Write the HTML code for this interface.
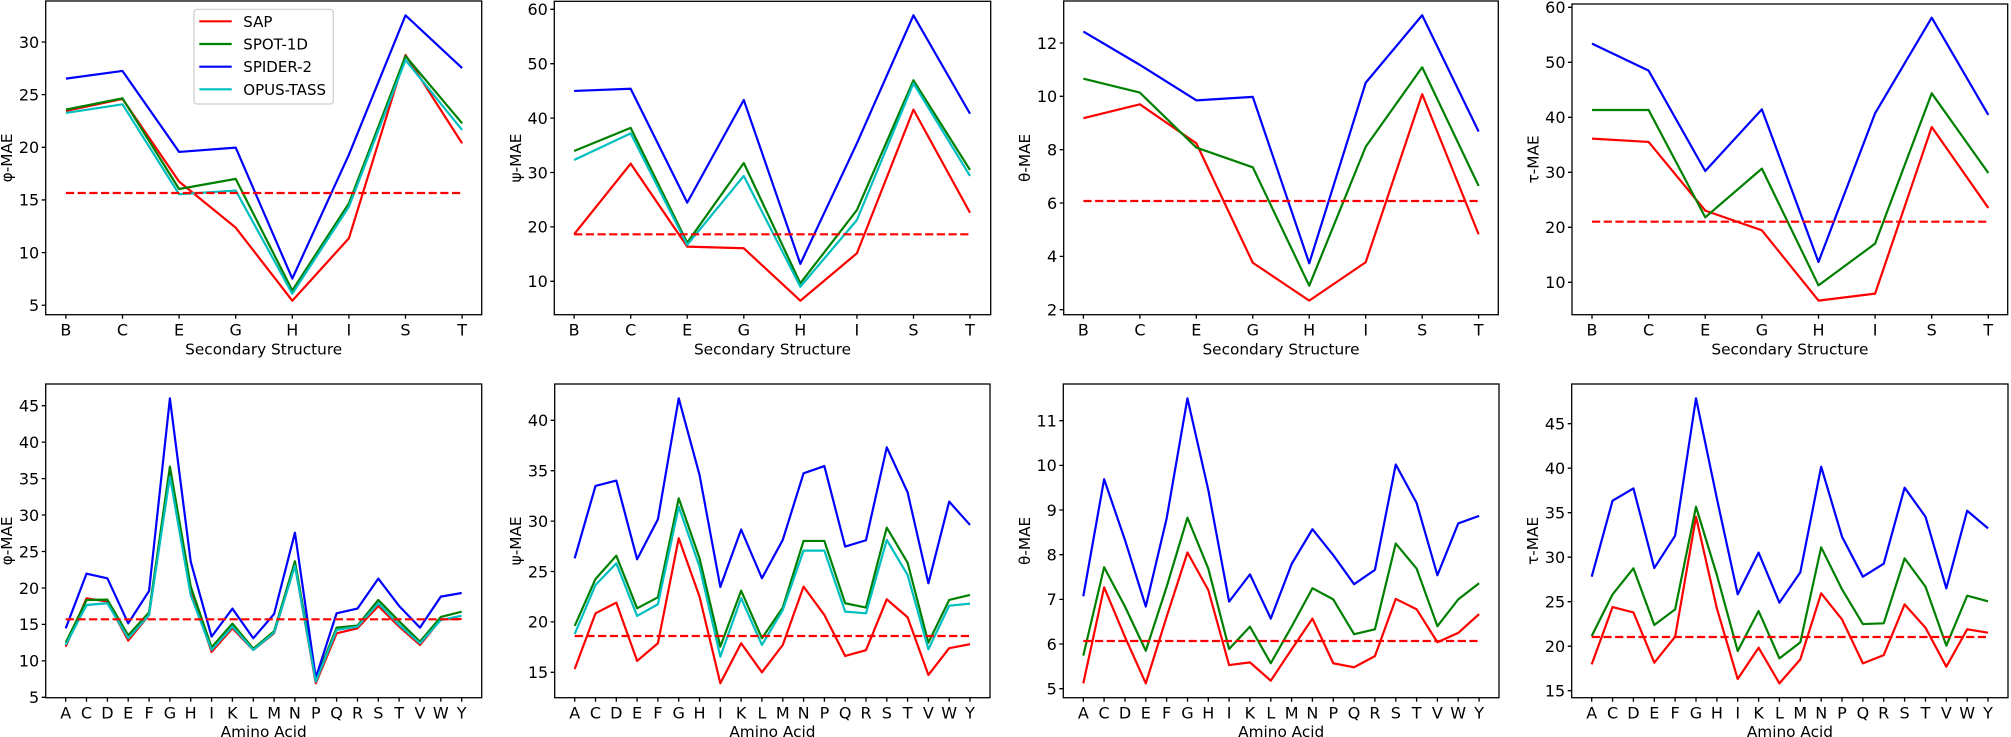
<!DOCTYPE html>
<html><head><meta charset="utf-8"><style>
html,body{margin:0;padding:0;background:#fff;}
svg{display:block;}
text{font-family:"DejaVu Sans","Liberation Sans",sans-serif;fill:#000;}
.tk{font-size:16px;}
.lb{font-size:15.3px;}
.lg{font-size:15px;}
.ln{fill:none;stroke-width:2.2;stroke-linejoin:round;}
.r{stroke:#ff0000;}.g{stroke:#008000;}.b{stroke:#0000ff;}.c{stroke:#00bfbf;}
.ds{stroke:#ff0000;stroke-width:2.2;stroke-dasharray:8.2 3.5;fill:none;}
.sp{fill:none;stroke:#000;stroke-width:1.3;}
.tm{fill:none;stroke:#000;stroke-width:1.3;}
</style></head><body>
<svg width="2011" height="737" viewBox="0 0 2011 737" xmlns="http://www.w3.org/2000/svg">
<rect width="2011" height="737" fill="#fff"/>

<!-- ================= P1 phi SS ================= -->
<g transform="translate(65.9,357.9) scale(56.6,-10.53)">
<polyline class="ln r" vector-effect="non-scaling-stroke" points="0,23.45 1,24.6 2,16.74 3,12.37 4,5.43 5,11.36 6,28.77 7,20.38"/>
<polyline class="ln g" vector-effect="non-scaling-stroke" points="0,23.58 1,24.65 2,16.04 3,17.0 4,6.4 5,14.68 6,28.67 7,22.28"/>
<polyline class="ln b" vector-effect="non-scaling-stroke" points="0,26.52 1,27.25 2,19.56 3,19.97 4,7.53 5,19.3 6,32.53 7,27.53"/>
<polyline class="ln c" vector-effect="non-scaling-stroke" points="0,23.26 1,24.08 2,15.54 3,15.89 4,6.1 5,14.36 6,28.29 7,21.65"/>
</g>
<line class="ds" x1="65.9" y1="193" x2="462.1" y2="193"/>
<rect class="sp" x="45.7" y="1" width="436" height="313.7"/>
<path class="tm" d="M41.7,305.25h4M41.7,252.6h4M41.7,199.95h4M41.7,147.3h4M41.7,94.65h4M41.7,42h4M65.9,314.7v4M122.5,314.7v4M179.1,314.7v4M235.7,314.7v4M292.3,314.7v4M348.9,314.7v4M405.5,314.7v4M462.1,314.7v4"/>
<g class="tk" text-anchor="end">
<text x="39.2" y="311">5</text><text x="39.2" y="258.4">10</text><text x="39.2" y="205.7">15</text><text x="39.2" y="153.1">20</text><text x="39.2" y="100.4">25</text><text x="39.2" y="47.8">30</text>
</g>
<g class="tk" text-anchor="middle">
<text x="65.9" y="335.3">B</text><text x="122.5" y="335.3">C</text><text x="179.1" y="335.3">E</text><text x="235.7" y="335.3">G</text><text x="292.3" y="335.3">H</text><text x="348.9" y="335.3">I</text><text x="405.5" y="335.3">S</text><text x="462.1" y="335.3">T</text>
</g>
<text class="lb" x="263.7" y="354.3" text-anchor="middle">Secondary Structure</text>
<text class="lb" text-anchor="middle" transform="translate(12.2,157.9) rotate(-90)">φ-MAE</text>

<!-- legend -->
<rect x="194" y="9.3" width="139.3" height="94.7" rx="3" fill="#fff" fill-opacity="0.8" stroke="#cccccc" stroke-width="1.2"/>
<line class="ln r" x1="199.3" y1="21.3" x2="231.7" y2="21.3"/>
<line class="ln g" x1="199.3" y1="44" x2="231.7" y2="44"/>
<line class="ln b" x1="199.3" y1="66.7" x2="231.7" y2="66.7"/>
<line class="ln c" x1="199.3" y1="89.3" x2="231.7" y2="89.3"/>
<g class="lg">
<text x="243.3" y="26.8">SAP</text>
<text x="243.3" y="49.5">SPOT-1D</text>
<text x="243.3" y="72.2">SPIDER-2</text>
<text x="243.3" y="94.8">OPUS-TASS</text>
</g>

<!-- ================= P2 psi SS ================= -->
<g transform="translate(574.1,335.7) scale(56.56,-5.44)">
<polyline class="ln r" vector-effect="non-scaling-stroke" points="0,18.64 1,31.63 2,16.37 3,16.07 4,6.43 5,15.15 6,41.56 7,22.6"/>
<polyline class="ln g" vector-effect="non-scaling-stroke" points="0,33.96 1,38.2 2,17.1 3,31.75 4,9.63 5,23.1 6,46.95 7,30.47"/>
<polyline class="ln b" vector-effect="non-scaling-stroke" points="0,44.99 1,45.4 2,24.46 3,43.33 4,13.2 5,35.37 6,58.9 7,40.8"/>
<polyline class="ln c" vector-effect="non-scaling-stroke" points="0,32.3 1,37.2 2,16.7 3,29.36 4,9.0 5,21.27 6,46.4 7,29.36"/>
</g>
<line class="ds" x1="574.1" y1="234.3" x2="970" y2="234.3"/>
<rect class="sp" x="554.3" y="1.3" width="436.4" height="313.4"/>
<path class="tm" d="M550.3,281.3h4M550.3,226.9h4M550.3,172.5h4M550.3,118.1h4M550.3,63.7h4M550.3,9.3h4M574.1,314.7v4M630.7,314.7v4M687.2,314.7v4M743.8,314.7v4M800.3,314.7v4M856.9,314.7v4M913.5,314.7v4M970,314.7v4"/>
<g class="tk" text-anchor="end">
<text x="547.8" y="287.1">10</text><text x="547.8" y="232.7">20</text><text x="547.8" y="178.3">30</text><text x="547.8" y="123.9">40</text><text x="547.8" y="69.5">50</text><text x="547.8" y="15.1">60</text>
</g>
<g class="tk" text-anchor="middle">
<text x="574.1" y="335.3">B</text><text x="630.7" y="335.3">C</text><text x="687.2" y="335.3">E</text><text x="743.8" y="335.3">G</text><text x="800.3" y="335.3">H</text><text x="856.9" y="335.3">I</text><text x="913.5" y="335.3">S</text><text x="970" y="335.3">T</text>
</g>
<text class="lb" x="772.5" y="354.3" text-anchor="middle">Secondary Structure</text>
<text class="lb" text-anchor="middle" transform="translate(520.8,158) rotate(-90)">ψ-MAE</text>

<!-- ================= P3 theta SS ================= -->
<g transform="translate(1083.4,363.04) scale(56.46,-26.67)">
<polyline class="ln r" vector-effect="non-scaling-stroke" points="0,9.18 1,9.7 2,8.24 3,3.76 4,2.34 5,3.78 6,10.08 7,4.83"/>
<polyline class="ln g" vector-effect="non-scaling-stroke" points="0,10.66 1,10.14 2,8.08 3,7.34 4,2.9 5,8.11 6,11.09 7,6.64"/>
<polyline class="ln b" vector-effect="non-scaling-stroke" points="0,12.43 1,11.18 2,9.85 3,9.98 4,3.74 5,10.51 6,13.04 7,8.68"/>
</g>
<line class="ds" x1="1083.4" y1="201" x2="1478.6" y2="201"/>
<rect class="sp" x="1063.7" y="1" width="434.6" height="313.7"/>
<path class="tm" d="M1059.7,309.7h4M1059.7,256.4h4M1059.7,203h4M1059.7,149.7h4M1059.7,96.3h4M1059.7,43h4M1083.4,314.7v4M1139.9,314.7v4M1196.3,314.7v4M1252.8,314.7v4M1309.2,314.7v4M1365.7,314.7v4M1422.2,314.7v4M1478.6,314.7v4"/>
<g class="tk" text-anchor="end">
<text x="1057.2" y="315.5">2</text><text x="1057.2" y="262.2">4</text><text x="1057.2" y="208.8">6</text><text x="1057.2" y="155.5">8</text><text x="1057.2" y="102.1">10</text><text x="1057.2" y="48.8">12</text>
</g>
<g class="tk" text-anchor="middle">
<text x="1083.4" y="335.3">B</text><text x="1139.9" y="335.3">C</text><text x="1196.3" y="335.3">E</text><text x="1252.8" y="335.3">G</text><text x="1309.2" y="335.3">H</text><text x="1365.7" y="335.3">I</text><text x="1422.2" y="335.3">S</text><text x="1478.6" y="335.3">T</text>
</g>
<text class="lb" x="1281" y="354.3" text-anchor="middle">Secondary Structure</text>
<text class="lb" text-anchor="middle" transform="translate(1030.2,157.9) rotate(-90)">θ-MAE</text>

<!-- ================= P4 tau SS ================= -->
<g transform="translate(1592,337.3) scale(56.62,-5.5)">
<polyline class="ln r" vector-effect="non-scaling-stroke" points="0,36.12 1,35.52 2,23.03 3,19.45 4,6.67 5,7.94 6,38.24 7,23.52"/>
<polyline class="ln g" vector-effect="non-scaling-stroke" points="0,41.33 1,41.33 2,21.82 3,30.67 4,9.45 5,17.03 6,44.36 7,29.88"/>
<polyline class="ln b" vector-effect="non-scaling-stroke" points="0,53.39 1,48.48 2,30.24 3,41.45 4,13.7 5,40.73 6,58.12 7,40.42"/>
</g>
<line class="ds" x1="1592" y1="221.7" x2="1988.3" y2="221.7"/>
<rect class="sp" x="1572" y="4" width="435.7" height="310.7"/>
<path class="tm" d="M1568,282.3h4M1568,227.3h4M1568,172.3h4M1568,117.3h4M1568,62.3h4M1568,7.3h4M1592,314.7v4M1648.6,314.7v4M1705.2,314.7v4M1761.9,314.7v4M1818.5,314.7v4M1875.1,314.7v4M1931.7,314.7v4M1988.3,314.7v4"/>
<g class="tk" text-anchor="end">
<text x="1565.5" y="288.1">10</text><text x="1565.5" y="233.1">20</text><text x="1565.5" y="178.1">30</text><text x="1565.5" y="123.1">40</text><text x="1565.5" y="68.1">50</text><text x="1565.5" y="13.1">60</text>
</g>
<g class="tk" text-anchor="middle">
<text x="1592" y="335.3">B</text><text x="1648.6" y="335.3">C</text><text x="1705.2" y="335.3">E</text><text x="1761.9" y="335.3">G</text><text x="1818.5" y="335.3">H</text><text x="1875.1" y="335.3">I</text><text x="1931.7" y="335.3">S</text><text x="1988.3" y="335.3">T</text>
</g>
<text class="lb" x="1789.9" y="354.3" text-anchor="middle">Secondary Structure</text>
<text class="lb" text-anchor="middle" transform="translate(1538.5,159.4) rotate(-90)">τ-MAE</text>

<!-- ================= P5 phi AA ================= -->
<g transform="translate(65.7,733.8) scale(20.84,-7.292)">
<polyline class="ln r" vector-effect="non-scaling-stroke" points="0,11.95 1,18.58 2,18.13 3,12.78 4,16.3 5,36.2 6,19.73 7,11.23 8,14.47 9,11.5 10,13.78 11,23.15 12,6.93 13,13.78 14,14.47 15,17.53 16,14.7 17,12.18 18,15.7 19,15.75"/>
<polyline class="ln g" vector-effect="non-scaling-stroke" points="0,12.5 1,18.35 2,18.4 3,13.5 4,16.66 5,36.64 6,20.18 7,11.86 8,15.11 9,11.68 10,14.06 11,23.66 12,7.4 13,14.56 14,14.84 15,18.35 16,15.43 17,12.64 18,16.02 19,16.75"/>
<polyline class="ln b" vector-effect="non-scaling-stroke" points="0,14.46 1,21.96 2,21.32 3,15.15 4,19.58 5,46.0 6,23.6 7,13.33 8,17.17 9,13.1 10,16.43 11,27.58 12,7.7 13,16.53 14,17.17 15,21.28 16,17.53 17,14.56 18,18.81 19,19.31"/>
<polyline class="ln c" vector-effect="non-scaling-stroke" points="0,12.18 1,17.66 2,17.9 3,13.1 4,16.3 5,35.27 6,19.0 7,11.5 8,14.7 9,11.5 10,13.87 11,23.06 12,7.15 13,14.24 14,14.7 15,17.9 16,14.93 17,12.41 18,15.6 19,16.2"/>
</g>
<line class="ds" x1="65.7" y1="619.3" x2="461.7" y2="619.3"/>
<rect class="sp" x="45.7" y="384" width="436" height="313.7"/>
<path class="tm" d="M41.7,697.3h4M41.7,660.9h4M41.7,624.4h4M41.7,588h4M41.7,551.5h4M41.7,515h4M41.7,478.6h4M41.7,442.1h4M41.7,405.7h4M65.7,697.7v4M86.5,697.7v4M107.4,697.7v4M128.2,697.7v4M149.1,697.7v4M169.9,697.7v4M190.7,697.7v4M211.6,697.7v4M232.4,697.7v4M253.3,697.7v4M274.1,697.7v4M294.9,697.7v4M315.8,697.7v4M336.6,697.7v4M357.5,697.7v4M378.3,697.7v4M399.1,697.7v4M420,697.7v4M440.8,697.7v4M461.7,697.7v4"/>
<g class="tk" text-anchor="end">
<text x="39.2" y="703.1">5</text><text x="39.2" y="666.7">10</text><text x="39.2" y="630.2">15</text><text x="39.2" y="593.8">20</text><text x="39.2" y="557.3">25</text><text x="39.2" y="520.8">30</text><text x="39.2" y="484.4">35</text><text x="39.2" y="447.9">40</text><text x="39.2" y="411.5">45</text>
</g>
<g class="tk" text-anchor="middle">
<text x="65.7" y="718.3">A</text><text x="86.5" y="718.3">C</text><text x="107.4" y="718.3">D</text><text x="128.2" y="718.3">E</text><text x="149.1" y="718.3">F</text><text x="169.9" y="718.3">G</text><text x="190.7" y="718.3">H</text><text x="211.6" y="718.3">I</text><text x="232.4" y="718.3">K</text><text x="253.3" y="718.3">L</text><text x="274.1" y="718.3">M</text><text x="294.9" y="718.3">N</text><text x="315.8" y="718.3">P</text><text x="336.6" y="718.3">Q</text><text x="357.5" y="718.3">R</text><text x="378.3" y="718.3">S</text><text x="399.1" y="718.3">T</text><text x="420" y="718.3">V</text><text x="440.8" y="718.3">W</text><text x="461.7" y="718.3">Y</text>
</g>
<text class="lb" x="263.7" y="737" text-anchor="middle">Amino Acid</text>
<text class="lb" text-anchor="middle" transform="translate(12.2,540.9) rotate(-90)">φ-MAE</text>

<!-- ================= P6 psi AA ================= -->
<g transform="translate(574.7,823.5) scale(20.805,-10.08)">
<polyline class="ln r" vector-effect="non-scaling-stroke" points="0,15.33 1,20.85 2,21.91 3,16.13 4,17.88 5,28.3 6,22.51 7,13.91 8,17.88 9,15.0 10,17.71 11,23.5 12,20.69 13,16.62 14,17.19 15,22.24 16,20.46 17,14.74 18,17.39 19,17.79"/>
<polyline class="ln g" vector-effect="non-scaling-stroke" points="0,19.6 1,24.26 2,26.57 3,21.35 4,22.44 5,32.26 6,26.31 7,17.55 8,23.1 9,18.38 10,21.42 11,28.03 12,28.03 13,21.85 14,21.42 15,29.35 16,25.88 17,17.94 18,22.18 19,22.67"/>
<polyline class="ln b" vector-effect="non-scaling-stroke" points="0,26.31 1,33.49 2,34.02 3,26.21 4,30.18 5,42.18 6,34.58 7,23.47 8,29.16 9,24.33 10,28.13 11,34.74 12,35.46 13,27.47 14,28.1 15,37.32 16,32.86 17,23.83 18,31.93 19,29.62"/>
<polyline class="ln c" vector-effect="non-scaling-stroke" points="0,18.8 1,23.66 2,25.81 3,20.59 4,21.75 5,31.43 6,25.48 7,16.55 8,22.35 9,17.71 10,21.18 11,27.07 12,27.07 13,21.02 14,20.85 15,28.13 16,24.66 17,17.28 18,21.61 19,21.81"/>
</g>
<line class="ds" x1="574.7" y1="636" x2="970" y2="636"/>
<rect class="sp" x="554.7" y="384" width="435.3" height="313.7"/>
<path class="tm" d="M550.7,672.3h4M550.7,621.9h4M550.7,571.5h4M550.7,521.1h4M550.7,470.7h4M550.7,420.3h4M574.7,697.7v4M595.5,697.7v4M616.3,697.7v4M637.1,697.7v4M657.9,697.7v4M678.7,697.7v4M699.5,697.7v4M720.3,697.7v4M741.1,697.7v4M761.9,697.7v4M782.8,697.7v4M803.6,697.7v4M824.4,697.7v4M845.2,697.7v4M866,697.7v4M886.8,697.7v4M907.6,697.7v4M928.4,697.7v4M949.2,697.7v4M970,697.7v4"/>
<g class="tk" text-anchor="end">
<text x="548.2" y="678.1">15</text><text x="548.2" y="627.7">20</text><text x="548.2" y="577.3">25</text><text x="548.2" y="526.9">30</text><text x="548.2" y="476.5">35</text><text x="548.2" y="426.1">40</text>
</g>
<g class="tk" text-anchor="middle">
<text x="574.7" y="718.3">A</text><text x="595.5" y="718.3">C</text><text x="616.3" y="718.3">D</text><text x="637.1" y="718.3">E</text><text x="657.9" y="718.3">F</text><text x="678.7" y="718.3">G</text><text x="699.5" y="718.3">H</text><text x="720.3" y="718.3">I</text><text x="741.1" y="718.3">K</text><text x="761.9" y="718.3">L</text><text x="782.8" y="718.3">M</text><text x="803.6" y="718.3">N</text><text x="824.4" y="718.3">P</text><text x="845.2" y="718.3">Q</text><text x="866" y="718.3">R</text><text x="886.8" y="718.3">S</text><text x="907.6" y="718.3">T</text><text x="928.4" y="718.3">V</text><text x="949.2" y="718.3">W</text><text x="970" y="718.3">Y</text>
</g>
<text class="lb" x="772.4" y="737" text-anchor="middle">Amino Acid</text>
<text class="lb" text-anchor="middle" transform="translate(521.2,540.9) rotate(-90)">ψ-MAE</text>

<!-- ================= P7 theta AA ================= -->
<g transform="translate(1083.3,912.07) scale(20.83,-44.67)">
<polyline class="ln r" vector-effect="non-scaling-stroke" points="0,5.12 1,7.27 2,6.16 3,5.12 4,6.61 5,8.05 6,7.21 7,5.53 8,5.59 9,5.18 10,5.88 11,6.57 12,5.57 13,5.48 14,5.73 15,7.01 16,6.78 17,6.04 18,6.25 19,6.67"/>
<polyline class="ln g" vector-effect="non-scaling-stroke" points="0,5.74 1,7.72 2,6.84 3,5.85 4,7.28 5,8.83 6,7.69 7,5.89 8,6.39 9,5.57 10,6.39 11,7.25 12,7.0 13,6.22 14,6.33 15,8.25 16,7.69 17,6.4 18,7.0 19,7.36"/>
<polyline class="ln b" vector-effect="non-scaling-stroke" points="0,7.07 1,9.69 2,8.33 3,6.84 4,8.81 5,11.5 6,9.45 7,6.95 8,7.56 9,6.57 10,7.79 11,8.57 12,7.99 13,7.34 14,7.66 15,10.02 16,9.16 17,7.54 18,8.7 19,8.87"/>
</g>
<line class="ds" x1="1083.3" y1="641" x2="1479.1" y2="641"/>
<rect class="sp" x="1063.3" y="384" width="435.7" height="313.7"/>
<path class="tm" d="M1059.3,688.7h4M1059.3,644h4M1059.3,599.4h4M1059.3,554.7h4M1059.3,510h4M1059.3,465.4h4M1059.3,420.7h4M1083.3,697.7v4M1104.1,697.7v4M1125,697.7v4M1145.8,697.7v4M1166.6,697.7v4M1187.5,697.7v4M1208.3,697.7v4M1229.1,697.7v4M1249.9,697.7v4M1270.8,697.7v4M1291.6,697.7v4M1312.4,697.7v4M1333.3,697.7v4M1354.1,697.7v4M1374.9,697.7v4M1395.8,697.7v4M1416.6,697.7v4M1437.4,697.7v4M1458.2,697.7v4M1479.1,697.7v4"/>
<g class="tk" text-anchor="end">
<text x="1056.8" y="694.5">5</text><text x="1056.8" y="649.8">6</text><text x="1056.8" y="605.2">7</text><text x="1056.8" y="560.5">8</text><text x="1056.8" y="515.8">9</text><text x="1056.8" y="471.2">10</text><text x="1056.8" y="426.5">11</text>
</g>
<g class="tk" text-anchor="middle">
<text x="1083.3" y="718.3">A</text><text x="1104.1" y="718.3">C</text><text x="1125" y="718.3">D</text><text x="1145.8" y="718.3">E</text><text x="1166.6" y="718.3">F</text><text x="1187.5" y="718.3">G</text><text x="1208.3" y="718.3">H</text><text x="1229.1" y="718.3">I</text><text x="1249.9" y="718.3">K</text><text x="1270.8" y="718.3">L</text><text x="1291.6" y="718.3">M</text><text x="1312.4" y="718.3">N</text><text x="1333.3" y="718.3">P</text><text x="1354.1" y="718.3">Q</text><text x="1374.9" y="718.3">R</text><text x="1395.8" y="718.3">S</text><text x="1416.6" y="718.3">T</text><text x="1437.4" y="718.3">V</text><text x="1458.2" y="718.3">W</text><text x="1479.1" y="718.3">Y</text>
</g>
<text class="lb" x="1281.2" y="737" text-anchor="middle">Amino Acid</text>
<text class="lb" text-anchor="middle" transform="translate(1029.8,540.9) rotate(-90)">θ-MAE</text>

<!-- ================= P8 tau AA ================= -->
<g transform="translate(1591.7,824.2) scale(20.86,-8.9)">
<polyline class="ln r" vector-effect="non-scaling-stroke" points="0,17.96 1,24.4 2,23.8 3,18.15 4,21.07 5,34.55 6,24.25 7,16.31 8,19.83 9,15.82 10,18.52 11,25.94 12,23.01 13,18.07 14,19.0 15,24.7 16,22.08 17,17.7 18,21.9 19,21.52"/>
<polyline class="ln g" vector-effect="non-scaling-stroke" points="0,21.14 1,25.82 2,28.75 3,22.38 4,24.14 5,35.67 6,28.0 7,19.46 8,23.95 9,18.63 10,20.43 11,31.11 12,26.39 13,22.49 14,22.57 15,29.87 16,26.69 17,20.06 18,25.67 19,25.04"/>
<polyline class="ln b" vector-effect="non-scaling-stroke" points="0,27.81 1,36.35 2,37.73 3,28.78 4,32.42 5,47.85 6,36.6 7,25.82 8,30.51 9,24.89 10,28.3 11,40.17 12,32.3 13,27.81 14,29.27 15,37.81 16,34.55 17,26.5 18,35.22 19,33.24"/>
</g>
<line class="ds" x1="1591.7" y1="637" x2="1988" y2="637"/>
<rect class="sp" x="1571.7" y="384" width="436.3" height="313.7"/>
<path class="tm" d="M1567.7,690.7h4M1567.7,646.2h4M1567.7,601.7h4M1567.7,557.2h4M1567.7,512.7h4M1567.7,468.2h4M1567.7,423.7h4M1591.7,697.7v4M1612.6,697.7v4M1633.4,697.7v4M1654.3,697.7v4M1675.1,697.7v4M1696,697.7v4M1716.9,697.7v4M1737.7,697.7v4M1758.6,697.7v4M1779.4,697.7v4M1800.3,697.7v4M1821.2,697.7v4M1842,697.7v4M1862.9,697.7v4M1883.7,697.7v4M1904.6,697.7v4M1925.5,697.7v4M1946.3,697.7v4M1967.2,697.7v4M1988,697.7v4"/>
<g class="tk" text-anchor="end">
<text x="1565.2" y="696.5">15</text><text x="1565.2" y="652">20</text><text x="1565.2" y="607.5">25</text><text x="1565.2" y="563">30</text><text x="1565.2" y="518.5">35</text><text x="1565.2" y="474">40</text><text x="1565.2" y="429.5">45</text>
</g>
<g class="tk" text-anchor="middle">
<text x="1591.7" y="718.3">A</text><text x="1612.6" y="718.3">C</text><text x="1633.4" y="718.3">D</text><text x="1654.3" y="718.3">E</text><text x="1675.1" y="718.3">F</text><text x="1696" y="718.3">G</text><text x="1716.9" y="718.3">H</text><text x="1737.7" y="718.3">I</text><text x="1758.6" y="718.3">K</text><text x="1779.4" y="718.3">L</text><text x="1800.3" y="718.3">M</text><text x="1821.2" y="718.3">N</text><text x="1842" y="718.3">P</text><text x="1862.9" y="718.3">Q</text><text x="1883.7" y="718.3">R</text><text x="1904.6" y="718.3">S</text><text x="1925.5" y="718.3">T</text><text x="1946.3" y="718.3">V</text><text x="1967.2" y="718.3">W</text><text x="1988" y="718.3">Y</text>
</g>
<text class="lb" x="1789.9" y="737" text-anchor="middle">Amino Acid</text>
<text class="lb" text-anchor="middle" transform="translate(1538.2,540.9) rotate(-90)">τ-MAE</text>

</svg>
</body></html>
